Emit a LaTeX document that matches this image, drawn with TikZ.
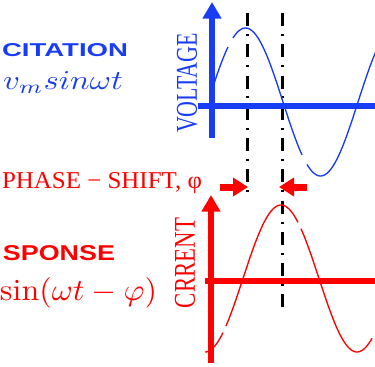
\documentclass[tikz,border=0pt]{standalone}
\usepackage{fontspec}
\usepackage{graphicx}
\newfontfamily\libserif{Liberation Serif}
\newfontfamily\libsans{Liberation Sans}
\usetikzlibrary{arrows.meta}
\definecolor{vblue}{RGB}{25,60,245}
\definecolor{ired}{RGB}{255,0,0}
\begin{document}
\begin{tikzpicture}[x=0.02cm,y=-0.02cm,
  txt/.style={inner sep=0pt, outer sep=0pt},
  thickaxis/.style={line width=0.12cm},
  axtip/.style={-{Triangle[length=0.33cm,width=0.36cm]}},
  wave/.style={line width=0.027cm, smooth, line join=round},
  dashdot/.style={black, line width=0.06cm, dash pattern=on 7.37pt off 4.54pt on 1.13pt off 4.76pt},
  shiftarrow/.style={draw=ired, line width=0.14cm, -{Triangle[length=0.3cm,width=0.36cm]}}]
\useasboundingbox (0,0) rectangle (375,366);
\clip (0,0) rectangle (375,366);
% coordinates
\coordinate (d1top) at (247,13);
\coordinate (d1bot) at (247,193);
\coordinate (d2top) at (282,13);
\coordinate (d2bot) at (282,312);
\coordinate (vbase) at (212,138);
\coordinate (vtip) at (212,2);
\coordinate (vl) at (198,106);
\coordinate (vr) at (375,106);
\coordinate (cbase) at (211,363);
\coordinate (ctip) at (211,195);
\coordinate (cl) at (205,281);
\coordinate (cr) at (375,281);
\coordinate (a1s) at (220,187);
\coordinate (a1t) at (248,187);
\coordinate (a2s) at (307,187);
\coordinate (a2t) at (279,187);
% dash-dot guide lines
\draw[dashdot] (d1top) -- (d1bot);
\draw[dashdot] (d2top) -- (d2bot);
% voltage axes
\draw[vblue, thickaxis] (vl) -- (vr);
\draw[vblue, thickaxis, axtip] (vbase) -- (vtip);
% current axes
\draw[ired, thickaxis] (cl) -- (cr);
\draw[ired, thickaxis, axtip] (cbase) -- (ctip);
% voltage wave
\draw[vblue, wave] plot[domain=213:228, samples=12] (\x,{102-74*sin(2.4*(\x-208))});
\draw[vblue, wave] plot[domain=233:302, samples=50] (\x,{102-74*sin(2.4*(\x-208))});
\draw[vblue, wave] plot[domain=307:376, samples=50] (\x,{102-74*sin(2.4*(\x-208))});
% current wave
\draw[ired, wave] plot[domain=205:223, samples=12] (\x,{278.5-73.5*sin(2.3684*(\x-243))});
\draw[ired, wave] plot[domain=226:298, samples=50] (\x,{278.5-73.5*sin(2.3684*(\x-243))});
\draw[ired, wave] plot[domain=301:372, samples=50] (\x,{278.5-73.5*sin(2.3684*(\x-243))});
% phase shift arrows
\draw[shiftarrow] (a1s) -- (a1t);
\draw[shiftarrow] (a2s) -- (a2t);
% texts
\node[txt, anchor=north west, text=vblue] (exc) at (2,43) {\resizebox{2.52cm}{0.26cm}{\libsans\bfseries CITATION}};
\node[txt, anchor=base west, text=vblue] (vm) at (3,89) {\resizebox{2.4cm}{0.36cm}{$v_m sin\omega t$}};
\node[txt, rotate=90, text=vblue] (volt) at (187,83) {\resizebox{2cm}{0.4cm}{\libserif VOLTAGE}};
\node[txt, anchor=base west, text=ired] (ps) at (2,188) {\resizebox{4cm}{0.32cm}{\libserif PHASE − SHIFT, φ}};
\node[txt, anchor=base west, text=ired] (resp) at (3,260) {\resizebox{2.24cm}{0.3cm}{\libsans\bfseries SPONSE}};
\node[txt, anchor=base west, text=ired] (im) at (0,300) {\resizebox{3.14cm}{0.46cm}{$\sin(\omega t-\varphi)$}};
\node[txt, rotate=90, text=ired] (curr) at (185,263) {\resizebox{1.8cm}{0.4cm}{\libserif CRRENT}};
\end{tikzpicture}
\end{document}
